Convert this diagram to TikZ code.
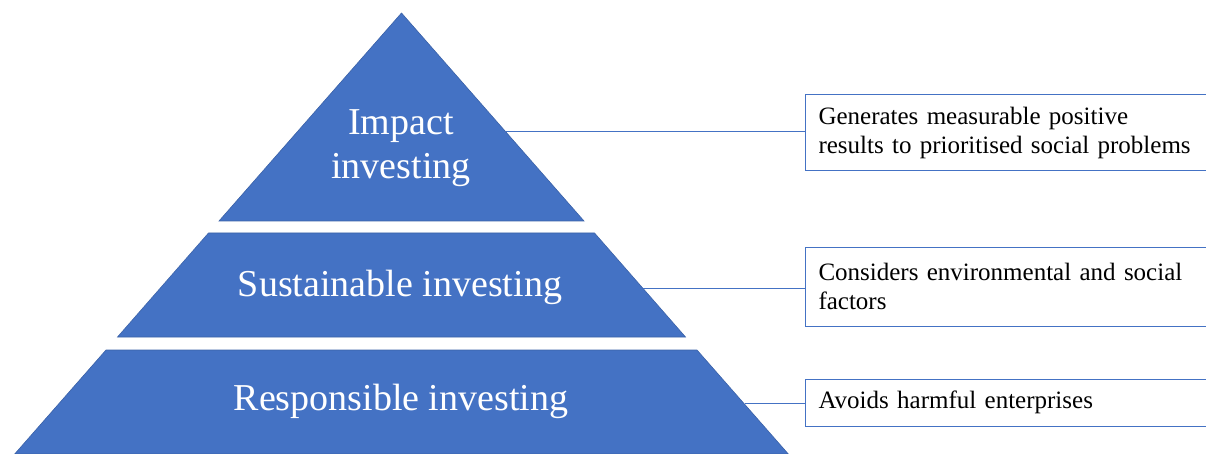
\documentclass[tikz,border=0pt]{standalone}
\usepackage{fontspec}
\setmainfont{Liberation Serif}
\definecolor{tierblue}{HTML}{4472C4}

\begin{document}
\begin{tikzpicture}[x=1pt,y=-1pt,
    tier/.style ={fill=tierblue, draw=tierblue!85!black, line width=0.6pt},
    tiertext/.style ={text=white, align=center, font=\fontsize{38}{44}\selectfont},
    note/.style ={draw=tierblue, line width=1pt, anchor=west, text width=381pt,
                  inner xsep=13pt, align=left, font=\fontsize{25}{29}\selectfont},
    link/.style ={draw=tierblue, line width=1pt}]
   \useasboundingbox (0,0) rectangle (1206,454);
   % the three tiers
   \path[tier] (401.5,13) -- (584,221) -- (219,221) -- cycle;
   \path[tier] (208.5,233) -- (594.5,233) -- (685.5,337) -- (117.5,337) -- cycle;
   \path[tier] (106,350) -- (697,350) -- (788.3,454) -- (14.7,454) -- cycle;
   \node[tiertext] (T1) at (401,148) {Impact\\investing};
   \node[tiertext] (T2) at (400,287) {Sustainable investing};
   \node[tiertext] (T3) at (401,401) {Responsible investing};
   % notes on the right
   \node[note, minimum height=76pt] (N1) at (805,133)
     {Generates measurable positive\\results to prioritised social problems};
   \node[note, minimum height=79pt] (N2) at (805,286.5)
     {Considers environmental and social\\factors};
   \node[note, minimum height=47pt] (N3) at (805,402.5)
     {Avoids harmful enterprises};
   \coordinate (E1) at (506,132);
   \coordinate (E2) at (643,288);
   \coordinate (E3) at (745,403);
   \draw[link] (E1) -- (E1 -| N1.west);
   \draw[link] (E2) -- (E2 -| N2.west);
   \draw[link] (E3) -- (E3 -| N3.west);
 \end{tikzpicture}
\end{document}
